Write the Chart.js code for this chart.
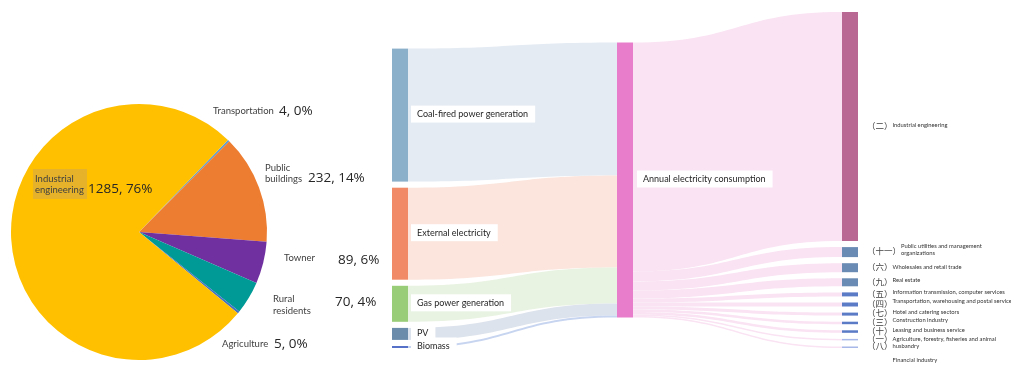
<!DOCTYPE html>
<html>
<head>
<meta charset="utf-8">
<script src="https://cdn.jsdelivr.net/npm/chart.js@4/dist/chart.umd.min.js"></script>
<style>
  html, body { margin: 0; padding: 0; background: #fff; }
  #wrap { position: relative; width: 1011px; height: 368px; overflow: hidden; }
  #pieChart { position: absolute; left: 0; top: 0; }
  #flowChart { position: absolute; left: 380px; top: 0; }
</style>
</head>
<body>
<div id="wrap">
  <canvas id="pieChart" width="380" height="368"></canvas>
  <canvas id="flowChart" width="631" height="368"></canvas>
</div>
<script>
// Electricity use by sector (pie)
const pieLabels = ["Transportation", "Public buildings", "Towner", "Rural residents", "Agriculture", "Industrial engineering"];
const pieValues = [4, 232, 89, 70, 5, 1285];
const piePercents = [0, 14, 6, 4, 0, 76];

// Supply -> annual consumption -> sectors (flow diagram)
const sourceNames = ["Coal-fired power generation", "External electricity", "Gas power generation", "PV", "Biomass"];
const sourceValues = [1330, 920, 360, 120, 20];
const totalName = "Annual electricity consumption";
const sectorNumerals = ["（二）", "（十一）", "（六）", "（九）", "（五）", "（四）", "（七）", "（三）", "（十）", "（一）", "（八）"];
const sectorNames = [
  "Industrial engineering",
  "Public utilities and management\norganizations",
  "Wholesales and retail trade",
  "Real estate",
  "Information transmission, computer services",
  "Transportation, warehousing and postal services",
  "Hotel and catering sectors",
  "Construction industry",
  "Leasing and business service",
  "Agriculture, forestry, fisheries and animal\nhusbandry",
  "Financial industry"
];
const sectorValues = [2290, 100, 90, 80, 40, 40, 30, 25, 25, 15, 15];

// ---- styles ----
const pieColors = ["#5B9BD5", "#ED7D31", "#7030A0", "#009A96", "#4472C4", "#FFC000"];
// where each pie label sits (name block left/centre, value left/centre)
const pieLabelSpots = [
  { nx: 213, ny: 111, vx: 279, vy: 111 },
  { nx: 265, ny: 173.5, vx: 308, vy: 178, wrap: true },
  { nx: 284, ny: 258, vx: 338, vy: 260 },
  { nx: 273, ny: 305, vx: 335, vy: 302, wrap: true },
  { nx: 222, ny: 344, vx: 274, vy: 344 },
  { nx: 35, ny: 184.5, vx: 88, vy: 189, wrap: true, box: { x: 33, y: 169, w: 54, h: 30 } }
];

const sourceColors = ["#8BB0CA", "#F18A66", "#9ACD78", "#6B8CAA", "#5572C8"];
const sourceLinkColors = ["#E4EBF3", "#FBE5DD", "#E9F3E2", "#DDE3EC", "#C8D5F0"];
const totalColor = "#E87DCB";
const totalLinkColor = "#FAE3F3";
const sectorColors = ["#B86893", "#6A8BB4", "#6A8BB4", "#6A8BB4", "#5B7BC6", "#5B7BC6", "#5B7BC6", "#5B7BC6", "#5B7BC6", "#A8B8E8", "#A8B8E8"];
const sectorNameDy = [-1, -6, -1, -2, -2, -3, -2, -3, -1, -1, 12.5];
const nodeWidth = 16;
const nodeGap = 61;
const columnAlign = ["end", "center", "start"];

const sum = arr => arr.reduce((a, b) => a + b, 0);
const columnValues = [sourceValues, [sum(sourceValues)], sectorValues];
const yMax = Math.max(...columnValues.map(c => sum(c) + nodeGap * (c.length - 1)));

function stackColumn(values, align) {
  const span = sum(values) + nodeGap * (values.length - 1);
  let start = align === "end" ? yMax - span : align === "center" ? (yMax - span) / 2 : 0;
  return values.map(v => {
    const n = { y0: start, y1: start + v };
    start += v + nodeGap;
    return n;
  });
}

// pie labels
const pieLabelPlugin = {
  id: "pieLabels",
  afterDraw(chart) {
    const ctx = chart.ctx;
    ctx.save();
    ctx.textBaseline = "middle";
    ctx.textAlign = "left";
    pieLabels.forEach((name, i) => {
      const s = pieLabelSpots[i];
      if (s.box) {
        ctx.fillStyle = "#E6B22A";
        ctx.fillRect(s.box.x, s.box.y, s.box.w, s.box.h);
      }
      const lines = s.wrap ? name.split(" ") : [name];
      ctx.font = "9.5px Lato";
      ctx.fillStyle = "#404040";
      lines.forEach((ln, k) => ctx.fillText(ln, s.nx, s.ny + (k - (lines.length - 1) / 2) * 11.5));
      ctx.font = "13.5px 'Open Sans'";
      ctx.fillStyle = "#262626";
      ctx.fillText(pieValues[i] + ", " + piePercents[i] + "%", s.vx, s.vy);
    });
    ctx.restore();
  }
};

new Chart(document.getElementById("pieChart"), {
  type: "pie",
  data: {
    labels: pieLabels,
    datasets: [{ data: pieValues, backgroundColor: pieColors, borderWidth: 0, hoverOffset: 0, offset: 0 }]
  },
  options: {
    responsive: false,
    animation: false,
    rotation: 44,
    layout: { padding: { left: 11, right: 113, top: 104, bottom: 8 } },
    plugins: { legend: { display: false }, tooltip: { enabled: false } }
  },
  plugins: [pieLabelPlugin]
});

// flow diagram drawn on the chart's x (column) and y (value) scales
function band(ctx, x0, a0, b0, x1, a1, b1, color) {
  const xm = (x0 + x1) / 2;
  ctx.beginPath();
  ctx.moveTo(x0, a0);
  ctx.bezierCurveTo(xm, a0, xm, a1, x1, a1);
  ctx.lineTo(x1, b1);
  ctx.bezierCurveTo(xm, b1, xm, b0, x0, b0);
  ctx.closePath();
  ctx.fillStyle = color;
  ctx.fill();
}

function labelBox(ctx, text, x, yc) {
  const w = ctx.measureText(text).width;
  ctx.fillStyle = "#fff";
  ctx.fillRect(x, yc - 8.5, w + 13, 17);
  ctx.fillStyle = "#262626";
  ctx.fillText(text, x + 6, yc);
}

const flowPlugin = {
  id: "flow",
  afterDatasetsDraw(chart) {
    const { ctx, scales: { x, y } } = chart;
    const cols = columnValues.map((vals, c) => stackColumn(vals, columnAlign[c]));
    const px = c => x.getPixelForValue(c);
    const py = v => y.getPixelForValue(v);
    const [srcNodes, [total], secNodes] = cols;

    ctx.save();
    // links: sources into the total
    let t = total.y0;
    srcNodes.forEach((n, i) => {
      const v = sourceValues[i];
      band(ctx, px(0) + nodeWidth, py(n.y0), py(n.y1), px(1), py(t), py(t + v), sourceLinkColors[i]);
      t += v;
    });
    // links: total out to sectors
    t = total.y0;
    secNodes.forEach((n, i) => {
      const v = sectorValues[i];
      band(ctx, px(1) + nodeWidth, py(t), py(t + v), px(2), py(n.y0), py(n.y1), totalLinkColor);
      t += v;
    });

    // nodes
    const node = (c, n, color) => {
      ctx.fillStyle = color;
      ctx.fillRect(px(c), py(n.y0), nodeWidth, py(n.y1) - py(n.y0));
    };
    srcNodes.forEach((n, i) => node(0, n, sourceColors[i]));
    node(1, total, totalColor);
    secNodes.forEach((n, i) => node(2, n, sectorColors[i]));

    // labels
    ctx.textBaseline = "middle";
    ctx.textAlign = "left";
    ctx.font = "9px Lato";
    srcNodes.forEach((n, i) => {
      labelBox(ctx, sourceNames[i], px(0) + nodeWidth + 3, (py(n.y0) + py(n.y1)) / 2 - 1);
    });
    labelBox(ctx, totalName, px(1) + nodeWidth + 4, (py(total.y0) + py(total.y1)) / 2 - 1);

    secNodes.forEach((n, i) => {
      const yc = (py(n.y0) + py(n.y1)) / 2;
      const nx = px(2) + nodeWidth + 9;
      ctx.font = "8.5px 'Noto Sans CJK SC'";
      ctx.fillStyle = "#404040";
      ctx.fillText(sectorNumerals[i], nx, yc - 1);
      const tx = nx + ctx.measureText(sectorNumerals[i]).width;
      ctx.font = "5.8px Lato";
      ctx.fillStyle = "#333";
      sectorNames[i].split("\n").forEach((ln, k) => {
        ctx.fillText(ln, tx, yc + sectorNameDy[i] + k * 7.5);
      });
    });
    ctx.restore();
  }
};

new Chart(document.getElementById("flowChart"), {
  type: "scatter",
  data: { datasets: [] },
  options: {
    responsive: false,
    animation: false,
    layout: { padding: { left: 12, right: 169, top: 12, bottom: 20 } },
    scales: {
      x: { type: "linear", min: 0, max: 2, display: false },
      y: { type: "linear", min: 0, max: yMax, reverse: true, display: false }
    },
    plugins: { legend: { display: false }, tooltip: { enabled: false } }
  },
  plugins: [flowPlugin]
});
</script>
</body>
</html>
